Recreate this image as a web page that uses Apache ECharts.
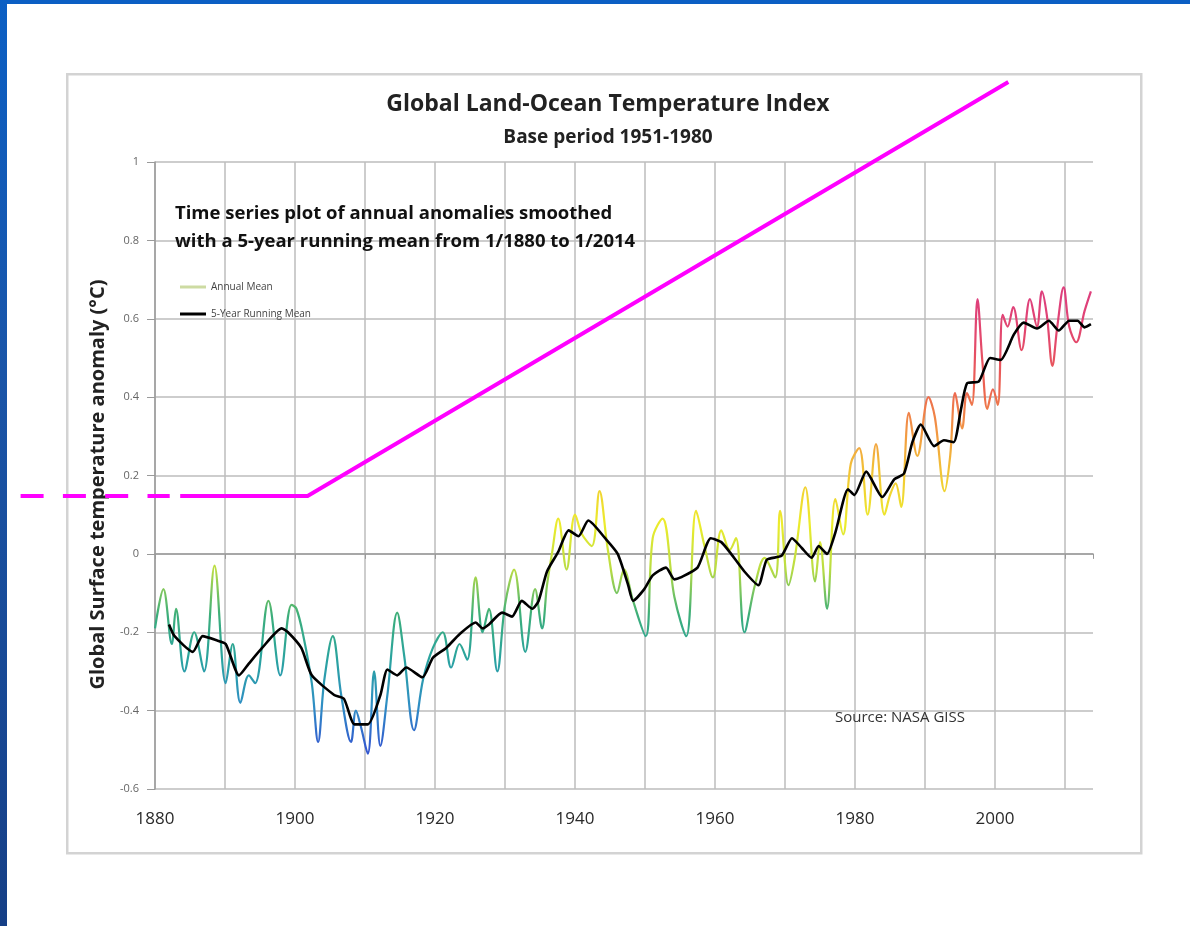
<!DOCTYPE html>
<html>
<head>
<meta charset="utf-8">
<script src="https://cdn.jsdelivr.net/npm/echarts@6/dist/echarts.min.js"></script>
<style>
html,body{margin:0;padding:0;background:#fff;}
#chart{width:1190px;height:926px;}
</style>
</head>
<body>
<div id="chart"></div>
<script>
// ---- data ----
// Annual mean (12-month smoothed wiggles): x = year (fractional), y = anomaly in °C
const annualX = [1880.0,1881.2,1882.4,1883.0,1884.2,1885.6,1887.0,1888.5,1890.1,1891.1,1892.2,1893.4,1894.3,1896.2,1897.9,1899.5,1900.2,1901.2,1902.4,1903.3,1904.2,1905.4,1906.6,1908.0,1908.7,1909.4,1910.4,1911.3,1912.2,1913.2,1914.6,1915.6,1917.0,1918.3,1919.7,1921.1,1922.3,1923.5,1924.6,1925.8,1926.8,1927.7,1928.9,1930.0,1931.3,1932.9,1934.3,1935.3,1936.0,1936.7,1937.6,1938.8,1940.0,1941.0,1942.4,1943.5,1944.7,1946.0,1947.0,1948.3,1950.1,1951.1,1952.5,1954.2,1955.9,1957.3,1958.5,1959.7,1960.9,1962.1,1963.0,1964.2,1965.7,1967.1,1968.6,1969.3,1970.5,1971.4,1972.9,1974.3,1975.0,1976.0,1977.2,1978.3,1979.4,1980.6,1981.8,1983.0,1984.2,1985.0,1985.8,1986.6,1987.7,1988.9,1990.5,1991.4,1992.8,1993.6,1994.3,1995.3,1996.0,1996.7,1997.5,1998.2,1998.9,1999.7,2000.4,2001.1,2001.8,2002.6,2003.8,2005.0,2006.0,2006.7,2007.4,2008.2,2008.9,2009.8,2010.6,2011.6,2012.8,2013.7];
const annualY = [-0.19,-0.09,-0.23,-0.14,-0.30,-0.20,-0.30,-0.03,-0.33,-0.23,-0.38,-0.31,-0.33,-0.12,-0.31,-0.13,-0.14,-0.21,-0.33,-0.48,-0.32,-0.21,-0.36,-0.48,-0.40,-0.44,-0.51,-0.30,-0.49,-0.36,-0.15,-0.26,-0.45,-0.32,-0.24,-0.20,-0.29,-0.23,-0.27,-0.06,-0.20,-0.14,-0.30,-0.13,-0.04,-0.25,-0.09,-0.19,-0.08,0.00,0.09,-0.04,0.10,0.05,0.02,0.16,0.01,-0.10,-0.04,-0.12,-0.21,0.04,0.09,-0.11,-0.21,0.11,0.02,-0.06,0.06,0.01,0.04,-0.20,-0.08,-0.01,-0.06,0.11,-0.08,-0.01,0.17,-0.07,0.03,-0.14,0.14,0.05,0.23,0.27,0.10,0.28,0.10,0.15,0.18,0.12,0.36,0.25,0.40,0.35,0.16,0.25,0.41,0.32,0.41,0.38,0.65,0.49,0.37,0.42,0.38,0.61,0.58,0.63,0.52,0.65,0.58,0.67,0.61,0.48,0.58,0.68,0.58,0.54,0.62,0.67];
// 5-year running mean
const meanX = [1882.0,1882.8,1885.4,1886.8,1888.7,1890.1,1892.0,1893.4,1895.3,1898.1,1899.0,1900.9,1902.4,1905.6,1907.0,1908.5,1910.4,1912.2,1913.2,1914.6,1915.9,1918.2,1919.7,1921.6,1923.5,1925.8,1926.8,1927.7,1929.6,1931.0,1932.4,1933.9,1934.8,1936.0,1937.6,1939.1,1940.5,1941.9,1944.3,1946.1,1947.6,1948.3,1949.9,1951.1,1953.0,1954.2,1955.1,1957.5,1959.4,1960.9,1962.3,1964.2,1966.2,1967.4,1969.5,1971.0,1972.4,1973.8,1974.8,1976.0,1977.2,1979.0,1979.9,1981.6,1983.9,1985.6,1987.0,1988.2,1989.4,1991.3,1992.7,1994.1,1995.1,1996.0,1997.7,1999.3,2000.8,2002.7,2004.1,2006.0,2007.7,2009.1,2010.6,2011.8,2012.8,2013.7];
const meanY = [-0.18,-0.21,-0.25,-0.21,-0.22,-0.23,-0.31,-0.28,-0.24,-0.19,-0.20,-0.24,-0.31,-0.36,-0.37,-0.435,-0.435,-0.36,-0.295,-0.31,-0.29,-0.315,-0.265,-0.24,-0.205,-0.175,-0.19,-0.18,-0.15,-0.16,-0.12,-0.14,-0.12,-0.045,0.005,0.06,0.045,0.085,0.04,0.0,-0.08,-0.12,-0.09,-0.055,-0.035,-0.065,-0.06,-0.035,0.04,0.03,0.0,-0.045,-0.08,-0.015,-0.005,0.04,0.015,-0.01,0.02,0.0,0.055,0.165,0.15,0.21,0.145,0.19,0.205,0.285,0.33,0.275,0.29,0.285,0.365,0.435,0.44,0.50,0.495,0.56,0.59,0.575,0.595,0.57,0.595,0.595,0.578,0.586];
// magenta pointer drawn over the slide (in data units)
const pointerDashX = [1860.8, 1882.1];
const pointerDashY = [0.148, 0.148];
const pointerSolidX = [1883.6, 1901.8, 2001.9];
const pointerSolidY = [0.148, 0.148, 1.204];
// axis labels
const xLabelYears = [1880, 1900, 1920, 1940, 1960, 1980, 2000];
const yTickLabels = {'1':'1','0.8':'0.8','0.6':'0.6','0.4':'0.4','0.2':'0.2','0':'0','-0.2':'-0.2','-0.4':'-0.4','-0.6':'-0.6'};

const zip = (xs, ys) => xs.map((x, i) => [x, ys[i]]);
const FONT = '"Open Sans", "Liberation Sans", sans-serif';

const chart = echarts.init(document.getElementById('chart'), null, {renderer: 'canvas'});
chart.setOption({
  backgroundColor: '#ffffff',
  animation: false,
  graphic: [
    {id: 'topbar', type: 'rect', left: 0, top: 0, z: 100, shape: {width: 1190, height: 4}, style: {fill: '#0b5fc4'}},
    {id: 'leftbar', type: 'rect', left: 0, top: 0, z: 100, shape: {width: 7, height: 926},
      style: {fill: new echarts.graphic.LinearGradient(0, 0, 0, 1, [
        {offset: 0, color: '#0b5fc4'}, {offset: 0.4, color: '#1a55a8'}, {offset: 1, color: '#163f86'}])}},
    {id: 'box', type: 'rect', left: 66, top: 73, z: -1, shape: {width: 1074, height: 779},
      style: {fill: '#ffffff', stroke: '#d3d3d3', lineWidth: 2.5}},
    {id: 'note', type: 'text', left: 175, top: 200, z: 5,
      style: {text: 'Time series plot of annual anomalies smoothed\nwith a 5-year running mean from 1/1880 to 1/2014',
        font: 'bold 18.5px ' + FONT, fill: '#111', lineHeight: 28}},
    {id: 'source', type: 'text', left: 835, top: 710, z: 5,
      style: {text: 'Source: NASA GISS', font: '15px ' + FONT, fill: '#333'}}
  ],
  title: [
    {text: 'Global Land-Ocean Temperature Index', left: 603, top: 88, textAlign: 'center',
      textStyle: {fontFamily: FONT, fontWeight: 'bold', fontSize: 23, color: '#222'}},
    {text: 'Base period 1951-1980', left: 603, top: 123, textAlign: 'center',
      textStyle: {fontFamily: FONT, fontWeight: 'bold', fontSize: 19, color: '#222'}}
  ],
  legend: {
    left: 175, top: 277, orient: 'vertical', itemGap: 17, itemWidth: 26, itemHeight: 3, icon: 'rect',
    textStyle: {fontFamily: FONT, fontSize: 10, color: '#444'},
    data: [
      {name: 'Annual Mean', itemStyle: {color: '#cddba2'}},
      {name: '5-Year Running Mean', itemStyle: {color: '#000000'}}
    ]
  },
  grid: {left: 155, top: 162, right: 97, bottom: 137},
  xAxis: {
    type: 'value', min: 1880, max: 2014, interval: 10,
    axisLine: {show: true, lineStyle: {color: '#9a9a9a', width: 1.5}},
    axisTick: {show: true, length: 5, lineStyle: {color: '#9a9a9a'}},
    axisLabel: {
      margin: 22, fontFamily: FONT, fontSize: 17, color: '#2a2a2a',
      formatter: v => (xLabelYears.indexOf(v) >= 0 ? String(v) : '')
    },
    splitLine: {show: true, showMaxLine: false, lineStyle: {color: '#bdbdbd', width: 1.5}}
  },
  yAxis: {
    type: 'value', min: -0.6, max: 1, interval: 0.2,
    name: 'Global Surface temperature anomaly (°C)', nameLocation: 'middle', nameGap: 47, nameRotate: 90,
    nameTextStyle: {fontFamily: FONT, fontWeight: 'bold', fontSize: 20, color: '#222', padding: [0, 18, 0, 0]},
    axisLine: {show: true, lineStyle: {color: '#9a9a9a', width: 1.5}},
    axisTick: {show: true, length: 8, lineStyle: {color: '#9a9a9a'}},
    axisLabel: {
      margin: 16, fontFamily: FONT, fontSize: 11, color: '#666',
      formatter: v => { const k = String(Math.round(v * 10) / 10); return yTickLabels[k] !== undefined ? yTickLabels[k] : k; }
    },
    splitLine: {show: true, lineStyle: {color: '#bdbdbd', width: 1.5}}
  },
  visualMap: {
    show: false, type: 'continuous', seriesIndex: 0, dimension: 1, min: -0.5, max: 0.65,
    inRange: {color: ['#3358d0', '#2f8fc4', '#2aa3a0', '#3cae7a', '#b8dc44', '#ecec2c', '#f2cc34', '#f29a42', '#ec6450', '#e44a6a', '#de3f7c']}
  },
  series: [
    {
      name: 'Annual Mean', type: 'line', data: zip(annualX, annualY), smooth: 0.35,
      showSymbol: false, symbol: 'none', lineStyle: {width: 2.2}, z: 2
    },
    {
      name: '5-Year Running Mean', type: 'line', data: zip(meanX, meanY), smooth: 0.2,
      showSymbol: false, symbol: 'none', lineStyle: {width: 2.6, color: '#000'}, itemStyle: {color: '#000'}, z: 3
    },
    {
      name: 'pointerSolid', type: 'line', data: zip(pointerSolidX, pointerSolidY), clip: false,
      showSymbol: false, symbol: 'none', silent: true, z: 20,
      lineStyle: {width: 4, color: '#ff00ff', cap: 'butt', join: 'miter'}
    }
  ]
});

// dashed part of the pointer lies outside the plot: place it through the chart's own scales
const dashPts = zip(pointerDashX, pointerDashY).map(p => chart.convertToPixel({gridIndex: 0}, p));
chart.setOption({
  graphic: [{
    id: 'pointerDash', type: 'polyline', z: 120, silent: true,
    shape: {points: dashPts},
    style: {stroke: '#ff00ff', lineWidth: 4, lineDash: [23, 19.3], lineCap: 'butt', fill: null}
  }]
});
</script>
</body>
</html>
